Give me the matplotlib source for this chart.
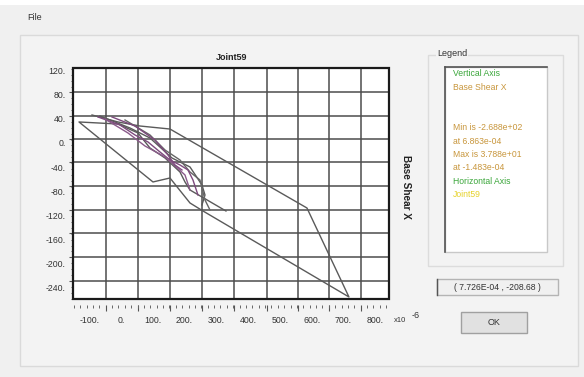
import matplotlib
matplotlib.use('Agg')
import numpy as np
import matplotlib.pyplot as plt
from matplotlib.patches import Rectangle
from matplotlib.lines import Line2D
from matplotlib.ticker import FixedLocator, NullFormatter

plt.rcParams['font.family'] = ['Liberation Sans', 'DejaVu Sans']

# ---------------- data ----------------
chart_title = "Joint59"
y_axis_name = "Base Shear X"
x_tick_values = [-100, 0, 100, 200, 300, 400, 500, 600, 700, 800]
y_tick_values = [120, 80, 40, 0, -40, -80, -120, -160, -200, -240]
x_grid_values = [-48, 52, 154, 255, 357, 458, 556, 653, 754]
y_grid_values = [84, 45, 6, -32, -71, -111, -150, -189, -229]
x_range = (-150, 843)
y_range = (-259, 125)

# grey main path (big excursion + inner band)
grey1_x = [-91.2, -9.4, 59.7, 154.1, 584.9, 717.0, 257.9, 217.0, 179.2, 154.1, 100.6,
           -132.1, -9.4, 53.5, 91.2, 138.4, 185.5, 201.3, 217.0, 330.2]
grey1_y = [46.5, 34.9, 28.2, 23.2, -107.9, -255.6, -112.9, -99.6, -74.7, -58.1, -64.7,
           34.9, 31.5, 16.6, -8.3, -24.9, -48.1, -64.7, -78.0, -112.9]
grey2_x = [-66.0, 28.3, 91.2, 160.4, 217.0, 254.7, 264.2, 254.7]
grey2_y = [44.8, 24.9, 8.3, -24.9, -39.8, -69.7, -86.3, -102.9]
grey3_x = [12.6, 91.2, 138.4, 185.5, 217.0, 248.4, 264.2, 279.9]
grey3_y = [38.2, 13.3, -11.6, -28.2, -48.1, -61.4, -94.6, -111.2]
# purple inner cycles
purple1_x = [-72.3, -3.1, 44.0, 84.9, 122.6, 154.1, 185.5, 210.7, 226.4, 242.1]
purple1_y = [43.2, 29.9, 13.3, 1.7, -14.9, -28.2, -36.5, -44.8, -61.4, -86.3]
purple2_x = [-50.3, 22.0, 75.5, 138.4, 160.4, 201.3, 217.0]
purple2_y = [39.8, 16.6, -5.0, -23.2, -33.2, -53.1, -78.0]
purple3_x = [-28.3, 44.0, 106.9, 147.8, 169.8, 191.8]
purple3_y = [43.2, 28.2, 5.0, -19.9, -36.5, -44.8]

legend_lines = [
    ("Vertical Axis", '#3aa63a'),
    ("Base Shear X", '#c8963c'),
    ("", None),
    ("", None),
    ("Min is -2.688e+02", '#c8963c'),
    ("at 6.863e-04", '#c8963c'),
    ("Max is 3.788e+01", '#c8963c'),
    ("at -1.483e-04", '#c8963c'),
    ("Horizontal Axis", '#3aa63a'),
    ("Joint59", '#e6d22a'),
]
cursor_text = "( 7.726E-04 , -208.68 )"

# ---------------- figure ----------------
W, H = 584, 377
fig = plt.figure(figsize=(W / 100, H / 100), dpi=100)
fig.patch.set_facecolor('#f0f0f0')


def rect(x0, y0, x1, y1, **kw):
    fig.patches.append(Rectangle((x0 / W, 1 - y1 / H), (x1 - x0) / W, (y1 - y0) / H,
                                 transform=fig.transFigure, zorder=-2, **kw))


def hline(x0, x1, y, **kw):
    fig.lines.append(Line2D([x0 / W, x1 / W], [1 - y / H, 1 - y / H],
                            transform=fig.transFigure, zorder=-1, **kw))


def vline(x, y0, y1, **kw):
    fig.lines.append(Line2D([x / W, x / W], [1 - y0 / H, 1 - y1 / H],
                            transform=fig.transFigure, zorder=-1, **kw))


def ftext(x, y, s, **kw):
    fig.text(x / W, 1 - y / H, s, **kw)


rect(0, 0, 584, 5, fc='white', ec='none')
ftext(27, 17, "File", ha='left', va='center', fontsize=6.5, color='#333333')
rect(20, 35, 578, 366, fc='#f3f3f3', ec='#dadada', lw=1)

# legend group
rect(428, 55, 563, 266, fc='none', ec='#dcdcdc', lw=1)
ftext(437, 54, "Legend", ha='left', va='center', fontsize=6.5, color='#333333',
      bbox=dict(fc='#f3f3f3', ec='none', pad=0.5))
rect(445, 67, 547, 252, fc='white', ec='#c8c8c8', lw=1)
hline(445, 547, 67, color='#555555', lw=1.2)
vline(445, 67, 252, color='#555555', lw=1.2)
for i, (s, c) in enumerate(legend_lines):
    if s:
        ftext(453, 74 + i * 13.4, s, ha='left', va='center', fontsize=6.2, color=c)

# cursor box
rect(437, 279, 558, 295, fc='#f0f0f0', ec='#b4b4b4', lw=1)
vline(437, 279, 295, color='#555555', lw=1.0)
ftext(497, 287, cursor_text, ha='center', va='center', fontsize=6.2, color='#333333')

# OK button
rect(461, 312, 527, 333, fc='#e1e1e1', ec='#a0a0a0', lw=1)
ftext(494, 322.5, "OK", ha='center', va='center', fontsize=6.5, color='#333333')

# ---------------- plot ----------------
ax = fig.add_axes([73.3 / W, 1 - 299 / H, (389 - 73.3) / W, (299 - 67.7) / H])
ax.set_zorder(5)
ax.set_facecolor('white')
ax.set_xlim(x_range)
ax.set_ylim(y_range)
for s in ax.spines.values():
    s.set_visible(False)
ax.add_patch(Rectangle((0, 0), 1, 1, transform=ax.transAxes, fill=False,
                       ec='#1a1a1a', lw=1.6, clip_on=False, zorder=6))
for g in x_grid_values:
    ax.axvline(g, color='#4d4d4d', lw=1.1, zorder=1)
for g in y_grid_values:
    ax.axhline(g, color='#4d4d4d', lw=1.1, zorder=1)

ax.plot(grey1_x, grey1_y, color='#5a5a5a', lw=1.0, zorder=3)
ax.plot(grey2_x, grey2_y, color='#5a5a5a', lw=1.0, zorder=3)
ax.plot(grey3_x, grey3_y, color='#666666', lw=1.0, zorder=3)
ax.plot(purple1_x, purple1_y, color='#7d4a7d', lw=1.0, zorder=4)
ax.plot(purple2_x, purple2_y, color='#8a5a8a', lw=1.0, zorder=4)
ax.plot(purple3_x, purple3_y, color='#7d4a7d', lw=1.0, zorder=4)

ax.set_xticks(x_tick_values, [f"{v}." for v in x_tick_values])
ax.tick_params(axis='x', length=0, pad=12.5, labelsize=6.3, labelcolor='#333333')
ax.set_yticks(y_tick_values, [f"{v}." for v in y_tick_values])
ax.tick_params(axis='y', length=0, pad=5.5, labelsize=6.3, labelcolor='#333333')

# tick ruler below plot
secx = ax.secondary_xaxis(-0.026)
secx.spines['bottom'].set_visible(False)
secx.xaxis.set_major_locator(FixedLocator(x_grid_values))
step_x = (x_grid_values[-1] - x_grid_values[0]) / (len(x_grid_values) - 1) / 5
secx.xaxis.set_minor_locator(FixedLocator(
    np.arange(x_grid_values[0] - 5 * step_x, x_range[1], step_x)))
secx.xaxis.set_major_formatter(NullFormatter())
secx.tick_params(which='major', length=4.5, width=0.8, color='#555555', direction='out')
secx.tick_params(which='minor', length=2.5, width=0.7, color='#666666', direction='out')

secy = ax.secondary_yaxis(0)
secy.spines['left'].set_visible(False)
secy.yaxis.set_major_locator(FixedLocator(y_grid_values))
step_y = (y_grid_values[0] - y_grid_values[-1]) / (len(y_grid_values) - 1) / 4
secy.yaxis.set_minor_locator(FixedLocator(
    np.arange(y_grid_values[-1] - 4 * step_y, y_range[1], step_y)))
secy.yaxis.set_major_formatter(NullFormatter())
secy.tick_params(which='major', length=3, width=0.8, color='#555555', direction='out')
secy.tick_params(which='minor', length=1.5, width=0.7, color='#666666', direction='out')

ax.set_title(chart_title, fontsize=6.5, fontweight='bold', color='#222222', pad=5.5)
ax.text(1 + (406.5 - 389) / (389 - 73.3), (299 - 187) / (299 - 67.7), y_axis_name,
        rotation=270, transform=ax.transAxes, ha='center', va='center',
        fontsize=7.2, fontweight='bold', color='#222222')
ftext(400, 321, "x10", ha='center', va='center', fontsize=5.5, color='#333333')
ftext(416, 316, "-6", ha='center', va='center', fontsize=6.5, color='#333333')

fig.savefig('out.png', dpi=100, facecolor=fig.get_facecolor())
